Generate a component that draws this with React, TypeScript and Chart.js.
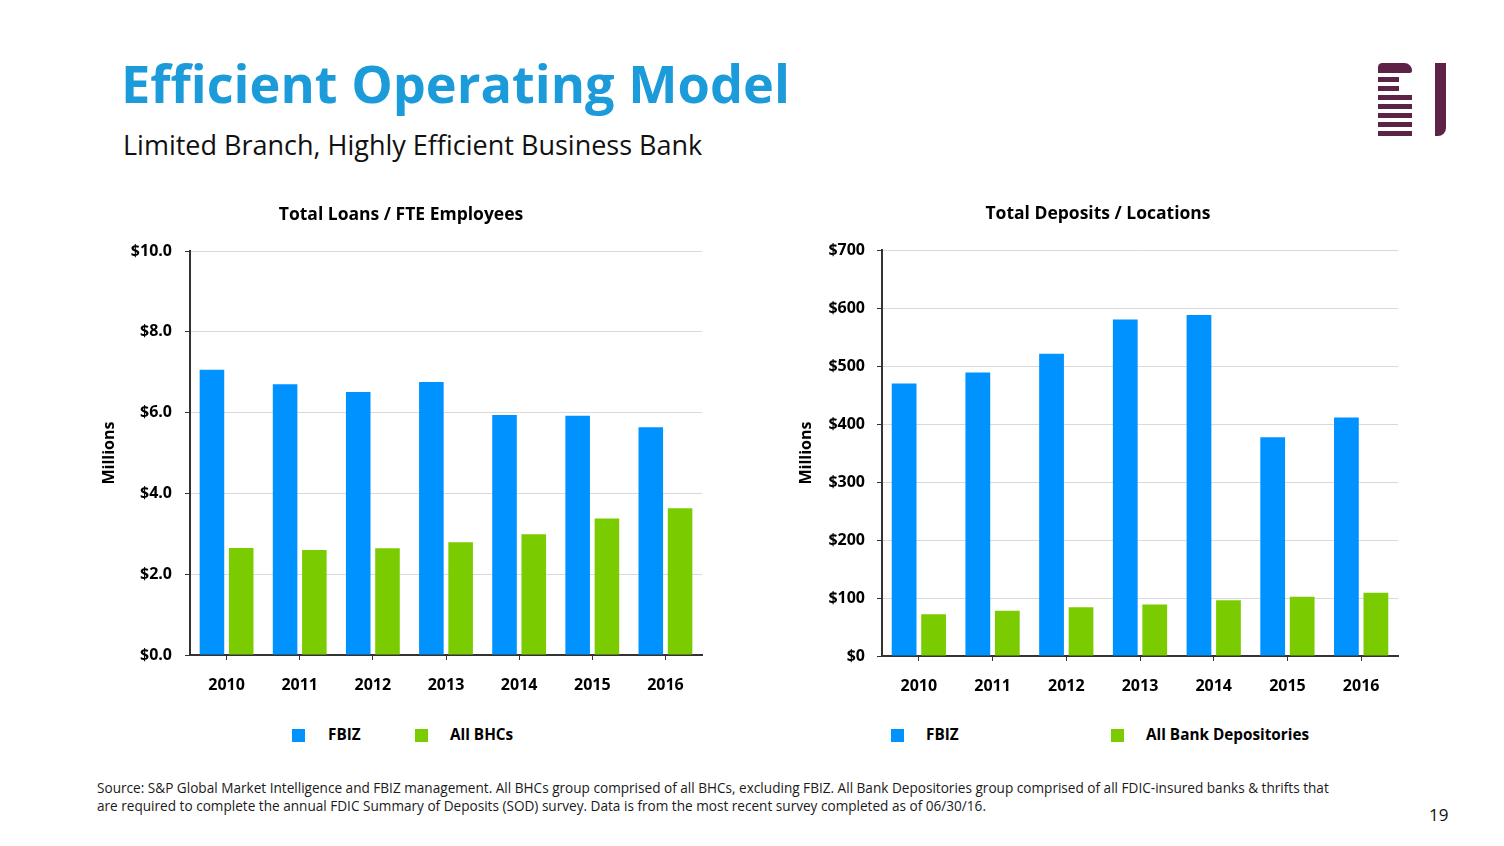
import React, { useEffect, useRef } from "react";
import { Chart, registerables } from "chart.js";

Chart.register(...registerables);

const years = ["2010", "2011", "2012", "2013", "2014", "2015", "2016"];
const loansFBIZ = [7.06, 6.7, 6.51, 6.76, 5.94, 5.92, 5.64];
const loansBHCs = [2.65, 2.6, 2.64, 2.79, 2.99, 3.38, 3.63];
const depositsFBIZ = [470, 489, 521, 580, 588, 377, 411];
const depositsAllBanks = [72, 78, 84, 89, 96, 102, 109];
const loansTickValues = [0, 2, 4, 6, 8, 10];
const depositsTickValues = [0, 100, 200, 300, 400, 500, 600, 700];

const BLUE = "#0092ff";
const GREEN = "#7acc00";
const FONT = "'Open Sans', 'DejaVu Sans', sans-serif";

type Series = { label: string; data: number[]; color: string };

function BarChart(props: {
  left: number;
  top: number;
  width: number;
  height: number;
  title: string;
  series: Series[];
  tickValues: number[];
  fmt: (v: number) => string;
  yWidth: number;
  yTitlePad: number;
  titlePadTop: number;
  titlePadBottom: number;
  yTickPad: number;
}) {
  const ref = useRef<HTMLCanvasElement | null>(null);
  useEffect(() => {
    if (!ref.current) return;
    const tv = props.tickValues;
    const chart = new Chart(ref.current, {
      type: "bar",
      data: {
        labels: years,
        datasets: props.series.map((s) => ({
          label: s.label,
          data: s.data,
          backgroundColor: s.color,
          borderWidth: 0,
          categoryPercentage: 0.8,
          barPercentage: 0.84,
        })),
      },
      options: {
        responsive: false,
        animation: false,
        events: [],
        layout: { padding: { left: 0, right: 18, top: 0, bottom: 0 } },
        plugins: {
          legend: { display: false },
          tooltip: { enabled: false },
          title: {
            display: true,
            text: props.title,
            color: "#000",
            font: { family: FONT, size: 17.5, weight: "bold", lineHeight: 1.2 },
            padding: { top: props.titlePadTop, bottom: props.titlePadBottom },
          },
        },
        scales: {
          x: {
            grid: {
              display: true,
              drawOnChartArea: false,
              drawTicks: true,
              tickLength: 5,
              tickColor: "#333",
              offset: false,
            },
            border: { display: true, color: "#333", width: 2 },
            ticks: {
              color: "#000",
              font: { family: FONT, size: 16, weight: "bold" },
              padding: 16,
              maxRotation: 0,
            },
            afterFit: (s: any) => {
              s.height = 50;
            },
          },
          y: {
            min: tv[0],
            max: tv[tv.length - 1],
            afterBuildTicks: (s: any) => {
              s.ticks = tv.map((v) => ({ value: v }));
            },
            grid: {
              color: "#d9d9d9",
              lineWidth: 1,
              tickColor: "#333",
              tickLength: 5,
            },
            border: { display: true, color: "#333", width: 2 },
            ticks: {
              color: "#000",
              font: { family: FONT, size: 16, weight: "bold" },
              padding: props.yTickPad,
              callback: (v: any) => props.fmt(Number(v)),
            },
            title: {
              display: true,
              text: "Millions",
              color: "#000",
              font: { family: FONT, size: 16, weight: "bold", lineHeight: 1.2 },
              padding: { top: props.yTitlePad, bottom: 0 },
            },
            afterFit: (s: any) => {
              s.width = props.yWidth;
            },
          },
        },
      } as any,
    });
    return () => chart.destroy();
  }, []);
  return (
    <canvas
      ref={ref}
      width={props.width}
      height={props.height}
      style={{
        position: "absolute",
        left: props.left,
        top: props.top,
        width: props.width,
        height: props.height,
      }}
    />
  );
}

function Txt(props: {
  x: number;
  baseline: number;
  size: number;
  bold?: boolean;
  color?: string;
  children: React.ReactNode;
}) {
  return (
    <div
      style={{
        position: "absolute",
        left: props.x,
        top: props.baseline - 0.888 * props.size,
        fontFamily: FONT,
        fontSize: props.size,
        lineHeight: `${props.size}px`,
        fontWeight: props.bold ? 700 : 400,
        color: props.color || "#000",
        whiteSpace: "nowrap",
      }}
    >
      {props.children}
    </div>
  );
}

function Box(props: { x: number; y: number; w: number; h: number; color: string; radius?: string }) {
  return (
    <div
      style={{
        position: "absolute",
        left: props.x,
        top: props.y,
        width: props.w,
        height: props.h,
        background: props.color,
        borderRadius: props.radius,
      }}
    />
  );
}

const LOGO = "#5c2347";

export default function App() {
  return (
    <div
      style={{
        position: "absolute",
        left: 0,
        top: 0,
        width: 1504,
        height: 846,
        overflow: "hidden",
        background: "#fff",
      }}
    >
      <Txt x={121} baseline={103} size={52.3} bold color="#1b9bd9">
        Efficient Operating Model
      </Txt>
      <Txt x={123} baseline={155} size={27} color="#111">
        Limited Branch, Highly Efficient Business Bank
      </Txt>

      {/* logo */}
      <Box x={1378} y={63} w={34} h={10} color={LOGO} radius="5px 9px 3px 0" />
      <Box x={1378} y={77} w={21} h={5} color={LOGO} />
      <Box x={1378} y={86} w={21} h={5} color={LOGO} />
      <Box x={1378} y={95} w={34} h={5} color={LOGO} />
      <Box x={1378} y={104} w={34} h={5} color={LOGO} />
      <Box x={1378} y={113} w={34} h={5} color={LOGO} />
      <Box x={1378} y={122} w={34} h={5} color={LOGO} />
      <Box x={1378} y={131} w={34} h={5} color={LOGO} />
      <Box x={1435} y={63} w={11} h={73} color={LOGO} radius="0 0 8px 0" />

      <BarChart
        left={100}
        top={190}
        width={620}
        height={515}
        title="Total Loans / FTE Employees"
        series={[
          { label: "FBIZ", data: loansFBIZ, color: BLUE },
          { label: "All BHCs", data: loansBHCs, color: GREEN },
        ]}
        tickValues={loansTickValues}
        fmt={(v) => "$" + v.toFixed(1)}
        yWidth={90}
        yTitlePad={0}
        titlePadTop={15}
        titlePadBottom={25}
        yTickPad={13}
      />
      <BarChart
        left={798}
        top={190}
        width={618}
        height={516}
        title="Total Deposits / Locations"
        series={[
          { label: "FBIZ", data: depositsFBIZ, color: BLUE },
          { label: "All Bank Depositories", data: depositsAllBanks, color: GREEN },
        ]}
        tickValues={depositsTickValues}
        fmt={(v) => "$" + v.toFixed(0)}
        yWidth={84}
        yTitlePad={-1.5}
        titlePadTop={14}
        titlePadBottom={25}
        yTickPad={12}
      />

      {/* legends */}
      <Box x={292} y={729} w={13} h={13} color={BLUE} />
      <Txt x={328} baseline={741} size={15.3} bold>FBIZ</Txt>
      <Box x={415} y={729} w={13} h={13} color={GREEN} />
      <Txt x={450} baseline={741} size={15.3} bold>All BHCs</Txt>

      <Box x={891} y={729} w={13} h={13} color={BLUE} />
      <Txt x={926} baseline={741} size={15.3} bold>FBIZ</Txt>
      <Box x={1111} y={729} w={13} h={13} color={GREEN} />
      <Txt x={1146} baseline={741} size={15.3} bold>All Bank Depositories</Txt>

      {/* footer */}
      <Txt x={97} baseline={793} size={13.6} color="#1a1a1a">
        Source: S&amp;P Global Market Intelligence and FBIZ management. All BHCs group comprised of all BHCs, excluding FBIZ. All Bank Depositories group comprised of all FDIC-insured banks &amp; thrifts that
      </Txt>
      <Txt x={97} baseline={811} size={13.6} color="#1a1a1a">
        are required to complete the annual FDIC Summary of Deposits (SOD) survey. Data is from the most recent survey completed as of 06/30/16.
      </Txt>
      <Txt x={1429} baseline={821} size={17} color="#111">
        19
      </Txt>
    </div>
  );
}
